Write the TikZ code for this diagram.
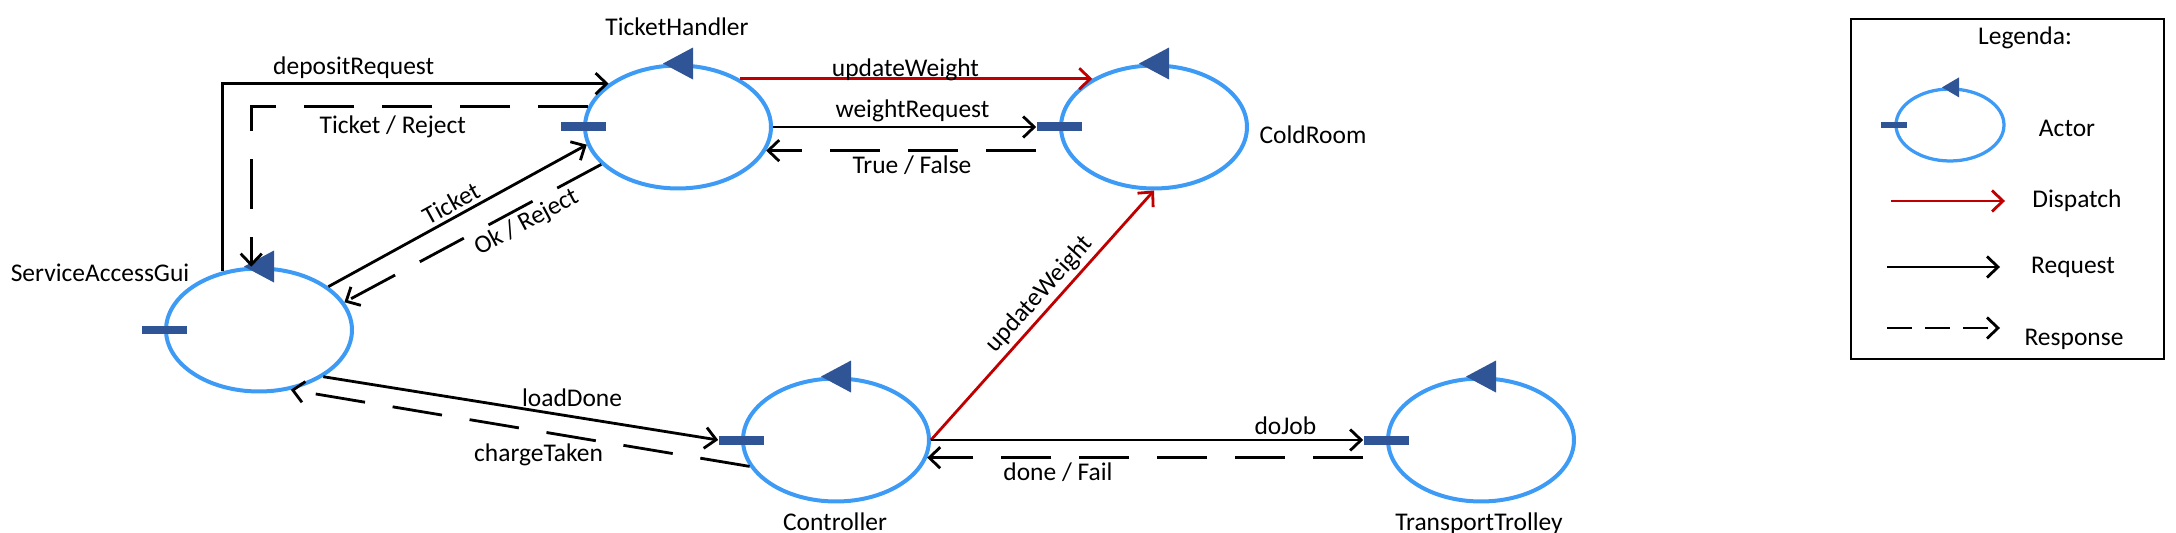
\documentclass[tikz,border=0pt]{standalone}
\usepackage{fontspec}
\setmainfont{Carlito}
\usetikzlibrary{shapes.geometric,arrows.meta,positioning}

\definecolor{actorblue}{RGB}{61,155,245}
\definecolor{portblue}{RGB}{47,85,151}
\definecolor{dispred}{RGB}{192,0,0}

\tikzset{
	actor/.style={ellipse, draw=actorblue, line width=0.08cm, minimum width=3.72cm, minimum height=2.46cm, inner sep=0pt},
	port/.style={rectangle, fill=portblue, minimum width=0.9cm, minimum height=0.18cm, inner sep=0pt},
	request/.style={line width=1.6pt, -{Straight Barb[length=0.22cm,width=0.42cm]}},
	response/.style={request, dash pattern=on 1cm off 0.56cm},
	dispatch/.style={request, draw=dispred},
	msg/.style={font=\fontsize{14.5}{17}\selectfont, inner sep=2pt},
	actname/.style={font=\fontsize{14.5}{17}\selectfont, inner sep=0pt},
}

\begin{document}
\begin{tikzpicture}[x=0.02cm, y=-0.02cm]
			\useasboundingbox (0,0) rectangle (2176,533);
			% actors
			\node[actor] (sag) at (259,330) {};
			\node[actor] (th) at (678,127) {};
			\node[actor] (cr) at (1154,127) {};
			\node[actor] (ctl) at (836,440) {};
			\node[actor] (tt) at (1481,440) {};
			\foreach \act in {sag,th,cr,ctl,tt} {
				\node[port] (\act port) at (\act.west) {};
				\fill[portblue] (\act.north) ++(-15,0) -- ++(30,-16) -- ++(0,32) -- cycle;
			}
			\node[actname, anchor=base] (sagname) at (100,282) {ServiceAccessGui};
			\node[actname, anchor=base] (thname) at (677,36) {TicketHandler};
			\node[actname, anchor=base] (crname) at (1313,144) {ColdRoom};
			\node[actname, anchor=base] (ctlname) at (835,530) {Controller};
			\node[actname, anchor=base] (ttname) at (1479,530) {TransportTrolley};
			% messages
			\draw[request] (sag.122) |- node[msg, pos=0.67, above] {depositRequest} (th.148);
			\draw[response] (th.167) -| node[msg, pos=0.29, below=0.1cm] {Ticket / Reject} (sag.97);
			\draw[request] (sag.32) -- node[msg, pos=0.5, sloped, above] {Ticket} (th.191);
			\draw[response] (th.206) -- node[msg, pos=0.32, sloped, below] {Ok / Reject} (sag.18);
			\draw[dispatch] (th.38) -- node[msg, pos=0.47, yshift=0.18cm] {updateWeight} (cr.142);
			\draw[request] (th.east) -- node[msg, pos=0.53, above] {weightRequest} (crport.west);
			\draw[response] (th.345 -| crport.west) -- node[msg, pos=0.46, below] {True / False} (th.345);
			\draw[dispatch] (ctl.east) -- node[msg, pos=0.54, sloped, above] {updateWeight} (cr.south);
			\draw[request] (sag.324) -- node[msg, pos=0.63, above=0.1cm] {loadDone} (ctlport.west);
			\draw[response] (ctl.197) -- node[msg, pos=0.46, below=0.16cm] {chargeTaken} (sag.298);
			\draw[request] (ctl.east) -- node[msg, pos=0.82, above] {doJob} (ttport.west);
			\draw[response] (ctl.349 -| ttport.west) -- node[msg, pos=0.70, below] {done / Fail} (ctl.349);
			% legend
			\node[draw, line width=1pt, inner sep=0pt, minimum width=6.26cm, minimum height=6.8cm] (legend) at (2007.5,189) {};
			\node[actname, anchor=base] (legtitle) at (2025,45) {Legenda:};
			\node[actor, line width=0.065cm, minimum width=2.16cm, minimum height=1.44cm] (legactor) at (1950,125) {};
			\node[port, minimum width=0.52cm, minimum height=0.12cm] (legport) at (legactor.west) {};
			\fill[portblue] (legactor.north) ++(-8,0) -- ++(17,-10) -- ++(0,20) -- cycle;
			\node[actname, anchor=base] (legactorlbl) at (2067,137) {Actor};
			\coordinate (dispfrom) at (1891,201);
			\coordinate (dispto) at (2005,201);
			\draw[dispatch] (dispfrom) -- (dispto);
			\node[actname, anchor=base] (legdisp) at (2077,208) {Dispatch};
			\coordinate (reqfrom) at (1887,267);
			\coordinate (reqto) at (2000,267);
			\draw[request] (reqfrom) -- (reqto);
			\node[actname, anchor=base] (legreq) at (2073,274) {Request};
			\coordinate (respfrom) at (1887,328);
			\coordinate (respto) at (2000,328);
			\draw[request, dash pattern=on 0.5cm off 0.26cm] (respfrom) -- (respto);
			\node[actname, anchor=base] (legresp) at (2074,345) {Response};
		\end{tikzpicture}
\end{document}
